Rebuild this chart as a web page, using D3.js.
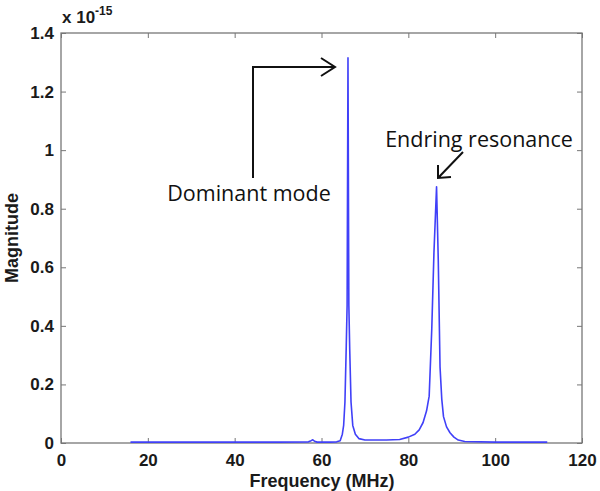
<!DOCTYPE html>
<html>
<head>
<meta charset="utf-8">
<script src="https://cdn.jsdelivr.net/npm/d3@7"></script>
<style>
  body { margin: 0; background: #fff; }
  svg { display: block; }
  .tick text { font-family: Arial, "Liberation Sans", sans-serif; font-weight: bold; font-size: 17px; fill: #1a1a1a; }
  .annot { font-family: "Open Sans", sans-serif; font-size: 21.5px; fill: #111; }
  .lbl { font-family: Arial, "Liberation Sans", sans-serif; font-weight: bold; font-size: 18px; fill: #1a1a1a; }
</style>
</head>
<body>
<svg width="600" height="491"></svg>
<script>
// frequency (MHz) and magnitude (x 1e-15)
var freq = [16, 20, 30, 40, 50, 57, 57.6, 58, 58.4, 59, 62, 63.5, 64.3, 64.8, 65.1, 65.4, 65.7, 65.9, 66.1,
            66.3, 66.5, 66.8, 67.2, 67.8, 68.6, 70, 72, 75, 78, 80, 81.5, 82.5, 83.4, 84.2, 84.8, 85.4, 85.9,
            86.5, 86.9, 87.3, 87.7, 88.1, 88.8, 89.6, 90.5, 91.5, 93, 100, 106, 112];
var mag  = [0.003, 0.003, 0.003, 0.003, 0.003, 0.004, 0.008, 0.011, 0.006, 0.003, 0.003, 0.004, 0.008, 0.03, 0.06, 0.14, 0.33, 0.47, 1.315,
            0.47, 0.32, 0.14, 0.06, 0.03, 0.015, 0.01, 0.01, 0.01, 0.012, 0.02, 0.03, 0.045, 0.07, 0.11, 0.16, 0.39, 0.65,
            0.875, 0.62, 0.26, 0.15, 0.09, 0.055, 0.035, 0.02, 0.01, 0.005, 0.003, 0.003, 0.003];
var xTicks = [0, 20, 40, 60, 80, 100, 120];
var yTicks = [0, 0.2, 0.4, 0.6, 0.8, 1, 1.2, 1.4];

var svg = d3.select("svg");
var pLeft = 61, pRight = 582, pTop = 33, pBottom = 443;

var x = d3.scaleLinear().domain([0, 120]).range([pLeft, pRight]);
var y = d3.scaleLinear().domain([0, 1.4]).range([pBottom, pTop]);

var data = freq.map(function(f, i) { return {f: f, m: mag[i]}; });

// box
svg.append("rect")
  .attr("x", pLeft).attr("y", pTop)
  .attr("width", pRight - pLeft).attr("height", pBottom - pTop)
  .attr("fill", "none").attr("stroke", "#777").attr("stroke-width", 1.3);

// axes (ticks pointing inward)
var xAxis = svg.append("g").attr("transform", "translate(0," + pBottom + ")")
  .call(d3.axisBottom(x).tickValues(xTicks).tickSizeInner(-5).tickSizeOuter(0).tickPadding(11));
var xTop = svg.append("g").attr("transform", "translate(0," + pTop + ")")
  .call(d3.axisTop(x).tickValues(xTicks).tickSizeInner(-5).tickSizeOuter(0).tickFormat(""));
var yAxis = svg.append("g").attr("transform", "translate(" + pLeft + ",0)")
  .call(d3.axisLeft(y).tickValues(yTicks).tickSizeInner(-5).tickSizeOuter(0).tickPadding(7)
    .tickFormat(function(d) { return d3.format("")(+d.toFixed(1)); }));
var yRight = svg.append("g").attr("transform", "translate(" + pRight + ",0)")
  .call(d3.axisRight(y).tickValues(yTicks).tickSizeInner(-5).tickSizeOuter(0).tickFormat(""));

[xAxis, xTop, yAxis, yRight].forEach(function(g) {
  g.select(".domain").remove();
  g.selectAll(".tick line").attr("stroke", "#777");
});

// exponent label
var expo = svg.append("text").attr("class", "lbl")
  .attr("x", 62).attr("y", 23)
  .style("font-size", "17px");
expo.append("tspan").text("x 10");
expo.append("tspan").attr("dy", -8).style("font-size", "12px").text("-15");

// axis titles
svg.append("text").attr("class", "lbl")
  .attr("x", 322).attr("y", 487)
  .attr("text-anchor", "middle")
  .text("Frequency (MHz)");

svg.append("text").attr("class", "lbl")
  .attr("transform", "translate(18," + ((pTop + pBottom) / 2) + ") rotate(-90)")
  .attr("text-anchor", "middle")
  .text("Magnitude");

// spectrum line
var line = d3.line()
  .x(function(d) { return x(d.f); })
  .y(function(d) { return y(d.m); });

svg.append("path")
  .datum(data)
  .attr("fill", "none")
  .attr("stroke", "#4040f8")
  .attr("stroke-width", 1.6)
  .attr("stroke-linejoin", "round")
  .attr("d", line);

// annotations
var arrowCol = "#111";
svg.append("path")
  .attr("d", "M253,178 V67 H335 M321,58 L335,67 L321,76")
  .attr("fill", "none").attr("stroke", arrowCol).attr("stroke-width", 2);

svg.append("text").attr("class", "annot")
  .attr("x", 249).attr("y", 201).attr("text-anchor", "middle")
  .text("Dominant mode");

svg.append("path")
  .attr("d", "M463,152 L438,178 M438,165 L438,178 L451,177")
  .attr("fill", "none").attr("stroke", arrowCol).attr("stroke-width", 2);

svg.append("text").attr("class", "annot")
  .attr("x", 479).attr("y", 147).attr("text-anchor", "middle")
  .text("Endring resonance");
</script>
</body>
</html>
